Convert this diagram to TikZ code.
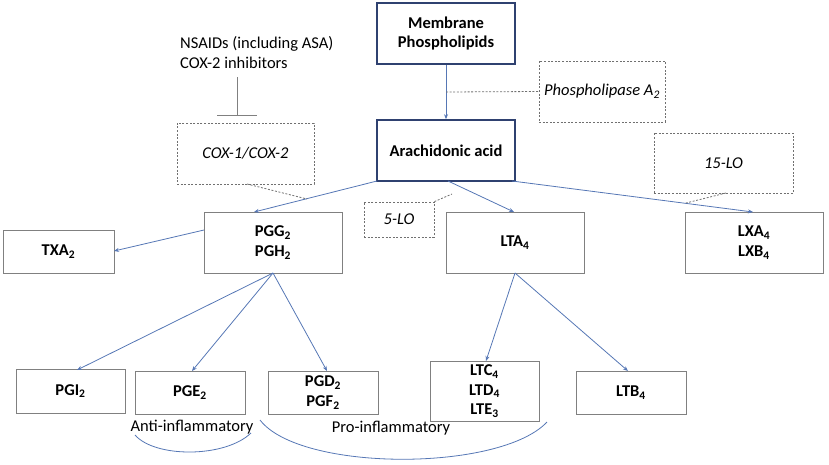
\documentclass[tikz,border=0pt]{standalone}
\usepackage{fontspec}
\setmainfont{Carlito}
\usetikzlibrary{arrows.meta}
\definecolor{navy}{HTML}{2F4170}
\definecolor{boxgray}{HTML}{808080}
\definecolor{arrblue}{HTML}{5677B5}
\definecolor{dotgray}{HTML}{707070}
\begin{document}
\begin{tikzpicture}[x=1pt,y=-1pt,
  mainbox/.style={draw=navy,line width=1.6pt,inner sep=0pt,font=\bfseries\fontsize{16.5}{19}\selectfont,align=center},
  prodbox/.style={draw=boxgray,line width=0.9pt,inner sep=0pt,font=\bfseries\fontsize{16.5}{20}\selectfont,align=center},
  enzbox/.style={draw=dotgray,dash pattern=on 2pt off 1.6pt,line width=0.8pt,inner sep=0pt,font=\itshape\fontsize{16.5}{19}\selectfont,align=center},
  flow/.style={draw=arrblue,line width=0.8pt,-{Stealth[length=5pt,width=4pt]}},
  dotl/.style={draw=dotgray,dash pattern=on 2pt off 1.6pt,line width=0.8pt},
  lbl/.style={font=\fontsize{16.5}{20}\selectfont,inner sep=0pt,align=left},
  arcl/.style={draw=arrblue,line width=0.8pt}
]
\useasboundingbox (0,0) rectangle (829,464);
% main boxes
\node[mainbox,minimum width=138pt,minimum height=61pt] (mp) at (446,33.5) {Membrane\\Phospholipids};
\node[mainbox,minimum width=138pt,minimum height=61pt] (aa) at (446,150.5) {Arachidonic acid};
% enzyme boxes
\node[enzbox,minimum width=126pt,minimum height=61pt] (pla) at (602,91.5) {Phospholipase A\textsubscript{2}};
\node[enzbox,minimum width=137pt,minimum height=61pt] (cox) at (245.5,153.5) {COX-1/COX-2};
\node[enzbox,minimum width=70pt,minimum height=35pt] (lo5) at (399,219.5) {5-LO};
\node[enzbox,minimum width=139pt,minimum height=60pt] (lo15) at (723.5,163) {15-LO};
% product boxes
\node[prodbox,minimum width=138pt,minimum height=61pt] (pgg) at (273,242.5) {PGG\textsubscript{2}\\PGH\textsubscript{2}};
\node[prodbox,minimum width=111pt,minimum height=43pt] (txa) at (58.5,251.5) {TXA\textsubscript{2}};
\node[prodbox,minimum width=138pt,minimum height=61pt] (lta) at (515,242.5) {LTA\textsubscript{4}};
\node[prodbox,minimum width=138pt,minimum height=61pt] (lxa) at (754,242.5) {LXA\textsubscript{4}\\LXB\textsubscript{4}};
\node[prodbox,minimum width=109pt,minimum height=44pt] (pgi) at (70.5,391) {PGI\textsubscript{2}};
\node[prodbox,minimum width=110pt,minimum height=43pt] (pge) at (190,392.5) {PGE\textsubscript{2}};
\node[prodbox,minimum width=110pt,minimum height=43pt] (pgd) at (323,392.5) {PGD\textsubscript{2}\\PGF\textsubscript{2}};
\node[prodbox,minimum width=109pt,minimum height=60pt,font=\bfseries\fontsize{16.5}{19.5}\selectfont] (ltc) at (484.5,391) {LTC\textsubscript{4}\\LTD\textsubscript{4}\\LTE\textsubscript{3}};
\node[prodbox,minimum width=110pt,minimum height=43pt] (ltb) at (631,392.5) {LTB\textsubscript{4}};
% inhibitor text
\node[lbl,anchor=north west] (nsaid) at (180,36) {NSAIDs (including ASA)\\COX-2 inhibitors};
\coordinate (inhtop) at (237,77);
\coordinate (inhbot) at (237,115);
\coordinate (barl) at (217,115);
\coordinate (barr) at (257,115);
\draw[draw=boxgray,line width=0.9pt] (inhtop) -- (inhbot);
\draw[draw=boxgray,line width=0.9pt] (barl) -- (barr);
% flows
\draw[flow] (mp.south) -- (aa.north);
\coordinate (plaj) at (446,92);
\draw[dotl] (plaj) -- (pla.west);
\coordinate (aabl) at (377,181);
\coordinate (aab2) at (448,181);
\coordinate (aabr) at (512,181);
\coordinate (pggt) at (254,212);
\coordinate (ltat) at (514,212);
\coordinate (lxat) at (753,212);
\draw[flow] (aabl) -- (pggt);
\draw[flow] (aab2) -- (ltat);
\draw[flow] (aabr) -- (lxat);
% enzyme dotted connectors
\coordinate (coxj) at (307,199);
\coordinate (coxs) at (247,184);
\draw[dotl] (coxs) -- (coxj);
\coordinate (lo5j) at (452,194);
\draw[dotl] (lo5.north east) -- (lo5j);
\coordinate (lo15s) at (726,193);
\coordinate (lo15j) at (686,203);
\draw[dotl] (lo15s) -- (lo15j);
% PGG children
\coordinate (pggl) at (204,230);
\coordinate (txar) at (114,251);
\draw[flow] (pggl) -- (txar);
\coordinate (pggb) at (273,273);
\coordinate (pgit) at (77,370);
\coordinate (pget) at (192,371);
\coordinate (pgdt) at (327,371);
\draw[flow] (pggb) -- (pgit);
\draw[flow] (pggb) -- (pget);
\draw[flow] (pggb) -- (pgdt);
% LTA children
\coordinate (ltab) at (515,273);
\coordinate (ltct) at (486,361);
\coordinate (ltbt) at (628,371);
\draw[flow] (ltab) -- (ltct);
\draw[flow] (ltab) -- (ltbt);
% labels and arcs
\node[lbl,anchor=center] (anti) at (192,427) {Anti-inflammatory};
\node[lbl,anchor=center] (pro) at (391,428) {Pro-inflammatory};
\coordinate (a1) at (135,435);
\coordinate (a2) at (251,433);
\draw[arcl] (a1) .. controls (155,458) and (225,458) .. (a2);
\coordinate (p1) at (260,420);
\coordinate (p2) at (547,422);
\draw[arcl] (p1) .. controls (300,472) and (500,472) .. (p2);
\end{tikzpicture}
\end{document}
